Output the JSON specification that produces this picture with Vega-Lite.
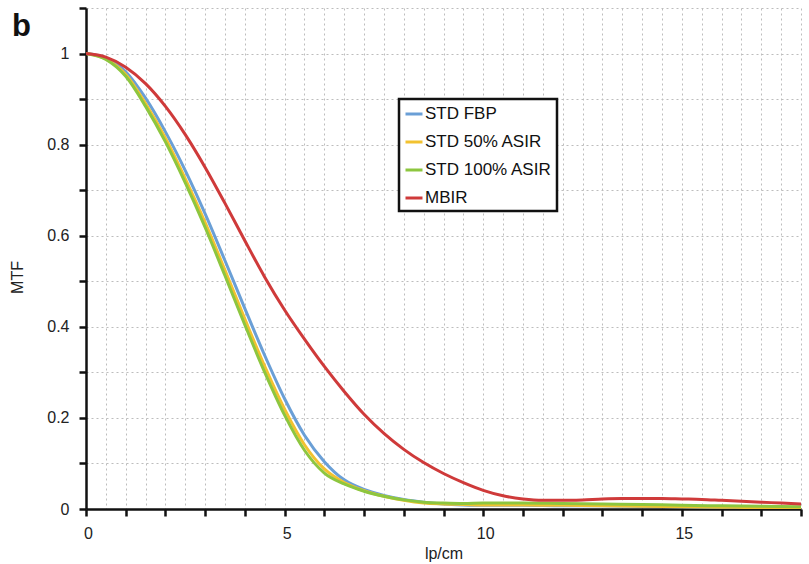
{
  "$schema": "https://vega.github.io/schema/vega-lite/v6.json",
  "autosize": {"type": "none"},
  "padding": {"left": 86, "top": 8, "right": 8, "bottom": 55},
  "width": 715,
  "height": 501,
  "background": "white",
  "title": {"text": "b", "anchor": "start", "frame": "group", "dx": -74, "dy": 64, "baseline": "alphabetic", "fontSize": 31, "fontWeight": "bold", "font": "Liberation Sans", "color": "#111"},
  "datasets": {
    "mtf": [
      {"x":0,"s":"STD FBP","y":1},{"x":0.5,"s":"STD FBP","y":0.99},{"x":1,"s":"STD FBP","y":0.96},{"x":1.5,"s":"STD FBP","y":0.902},{"x":2,"s":"STD FBP","y":0.828},{"x":2.5,"s":"STD FBP","y":0.743},{"x":3,"s":"STD FBP","y":0.648},{"x":3.5,"s":"STD FBP","y":0.545},{"x":4,"s":"STD FBP","y":0.44},{"x":4.5,"s":"STD FBP","y":0.337},{"x":5,"s":"STD FBP","y":0.242},{"x":5.5,"s":"STD FBP","y":0.162},{"x":6,"s":"STD FBP","y":0.104},{"x":6.5,"s":"STD FBP","y":0.064},{"x":7,"s":"STD FBP","y":0.043},{"x":7.5,"s":"STD FBP","y":0.03},{"x":8,"s":"STD FBP","y":0.021},{"x":8.5,"s":"STD FBP","y":0.015},{"x":9,"s":"STD FBP","y":0.011},{"x":9.5,"s":"STD FBP","y":0.009},{"x":10,"s":"STD FBP","y":0.008},{"x":11,"s":"STD FBP","y":0.008},{"x":12,"s":"STD FBP","y":0.007},{"x":13,"s":"STD FBP","y":0.007},{"x":14,"s":"STD FBP","y":0.006},{"x":15,"s":"STD FBP","y":0.005},{"x":16,"s":"STD FBP","y":0.004},{"x":17,"s":"STD FBP","y":0.004},{"x":18,"s":"STD FBP","y":0.003},
      {"x":0,"s":"STD 50% ASIR","y":1},{"x":0.5,"s":"STD 50% ASIR","y":0.988},{"x":1,"s":"STD 50% ASIR","y":0.954},{"x":1.5,"s":"STD 50% ASIR","y":0.89},{"x":2,"s":"STD 50% ASIR","y":0.814},{"x":2.5,"s":"STD 50% ASIR","y":0.725},{"x":3,"s":"STD 50% ASIR","y":0.629},{"x":3.5,"s":"STD 50% ASIR","y":0.524},{"x":4,"s":"STD 50% ASIR","y":0.417},{"x":4.5,"s":"STD 50% ASIR","y":0.313},{"x":5,"s":"STD 50% ASIR","y":0.219},{"x":5.5,"s":"STD 50% ASIR","y":0.141},{"x":6,"s":"STD 50% ASIR","y":0.088},{"x":6.5,"s":"STD 50% ASIR","y":0.058},{"x":7,"s":"STD 50% ASIR","y":0.04},{"x":7.5,"s":"STD 50% ASIR","y":0.028},{"x":8,"s":"STD 50% ASIR","y":0.019},{"x":8.5,"s":"STD 50% ASIR","y":0.013},{"x":9,"s":"STD 50% ASIR","y":0.011},{"x":9.5,"s":"STD 50% ASIR","y":0.01},{"x":10,"s":"STD 50% ASIR","y":0.009},{"x":11,"s":"STD 50% ASIR","y":0.009},{"x":12,"s":"STD 50% ASIR","y":0.008},{"x":13,"s":"STD 50% ASIR","y":0.007},{"x":14,"s":"STD 50% ASIR","y":0.006},{"x":15,"s":"STD 50% ASIR","y":0.005},{"x":16,"s":"STD 50% ASIR","y":0.004},{"x":17,"s":"STD 50% ASIR","y":0.003},{"x":18,"s":"STD 50% ASIR","y":0.003},
      {"x":0,"s":"STD 100% ASIR","y":1},{"x":0.5,"s":"STD 100% ASIR","y":0.987},{"x":1,"s":"STD 100% ASIR","y":0.95},{"x":1.5,"s":"STD 100% ASIR","y":0.884},{"x":2,"s":"STD 100% ASIR","y":0.806},{"x":2.5,"s":"STD 100% ASIR","y":0.716},{"x":3,"s":"STD 100% ASIR","y":0.618},{"x":3.5,"s":"STD 100% ASIR","y":0.512},{"x":4,"s":"STD 100% ASIR","y":0.404},{"x":4.5,"s":"STD 100% ASIR","y":0.3},{"x":5,"s":"STD 100% ASIR","y":0.206},{"x":5.5,"s":"STD 100% ASIR","y":0.129},{"x":6,"s":"STD 100% ASIR","y":0.079},{"x":6.5,"s":"STD 100% ASIR","y":0.055},{"x":7,"s":"STD 100% ASIR","y":0.039},{"x":7.5,"s":"STD 100% ASIR","y":0.028},{"x":8,"s":"STD 100% ASIR","y":0.02},{"x":8.5,"s":"STD 100% ASIR","y":0.015},{"x":9,"s":"STD 100% ASIR","y":0.013},{"x":9.5,"s":"STD 100% ASIR","y":0.012},{"x":10,"s":"STD 100% ASIR","y":0.013},{"x":11,"s":"STD 100% ASIR","y":0.013},{"x":12,"s":"STD 100% ASIR","y":0.012},{"x":13,"s":"STD 100% ASIR","y":0.011},{"x":14,"s":"STD 100% ASIR","y":0.01},{"x":15,"s":"STD 100% ASIR","y":0.008},{"x":16,"s":"STD 100% ASIR","y":0.007},{"x":17,"s":"STD 100% ASIR","y":0.006},{"x":18,"s":"STD 100% ASIR","y":0.005},
      {"x":0,"s":"MBIR","y":1},{"x":0.5,"s":"MBIR","y":0.992},{"x":1,"s":"MBIR","y":0.97},{"x":1.5,"s":"MBIR","y":0.934},{"x":2,"s":"MBIR","y":0.884},{"x":2.5,"s":"MBIR","y":0.822},{"x":3,"s":"MBIR","y":0.75},{"x":3.5,"s":"MBIR","y":0.671},{"x":4,"s":"MBIR","y":0.589},{"x":4.5,"s":"MBIR","y":0.509},{"x":5,"s":"MBIR","y":0.437},{"x":5.5,"s":"MBIR","y":0.373},{"x":6,"s":"MBIR","y":0.313},{"x":6.5,"s":"MBIR","y":0.258},{"x":7,"s":"MBIR","y":0.208},{"x":7.5,"s":"MBIR","y":0.166},{"x":8,"s":"MBIR","y":0.131},{"x":8.5,"s":"MBIR","y":0.102},{"x":9,"s":"MBIR","y":0.078},{"x":9.5,"s":"MBIR","y":0.058},{"x":10,"s":"MBIR","y":0.041},{"x":10.5,"s":"MBIR","y":0.029},{"x":11,"s":"MBIR","y":0.022},{"x":11.5,"s":"MBIR","y":0.019},{"x":12,"s":"MBIR","y":0.019},{"x":12.5,"s":"MBIR","y":0.02},{"x":13,"s":"MBIR","y":0.022},{"x":13.5,"s":"MBIR","y":0.023},{"x":14,"s":"MBIR","y":0.023},{"x":14.5,"s":"MBIR","y":0.023},{"x":15,"s":"MBIR","y":0.022},{"x":15.5,"s":"MBIR","y":0.021},{"x":16,"s":"MBIR","y":0.019},{"x":16.5,"s":"MBIR","y":0.017},{"x":17,"s":"MBIR","y":0.015},{"x":17.5,"s":"MBIR","y":0.013},{"x":18,"s":"MBIR","y":0.011}
    ]
  },
  "data": {"name": "mtf"},
  "mark": {"type": "line", "interpolate": "monotone", "strokeWidth": 3, "clip": true},
  "encoding": {
    "x": {
      "field": "x", "type": "quantitative",
      "scale": {"domain": [0, 18], "nice": false, "zero": false},
      "axis": {
        "title": "lp/cm",
        "values": [0,0.5,1,1.5,2,2.5,3,3.5,4,4.5,5,5.5,6,6.5,7,7.5,8,8.5,9,9.5,10,10.5,11,11.5,12,12.5,13,13.5,14,14.5,15,15.5,16,16.5,17,17.5,18],
        "labelExpr": "datum.value % 5 === 0 ? format(datum.value, 'd') : ''",
        "tickOpacity": {"condition": {"test": "datum.value % 1 !== 0", "value": 0}, "value": 1},
        "labelFlush": false,
        "labelOffset": 2,
        "labelPadding": 9,
        "titlePadding": 4
      }
    },
    "y": {
      "field": "y", "type": "quantitative",
      "scale": {"domain": [0, 1.1], "nice": false, "zero": false},
      "axis": {
        "title": "MTF",
        "values": [0,0.1,0.2,0.3,0.4,0.5,0.6,0.7,0.8,0.9,1,1.1],
        "labelExpr": "abs(datum.value*5 - round(datum.value*5)) < 0.001 ? format(datum.value, '~g') : ''",
        "labelPadding": 10,
        "titleX": -61,
        "titleY": 269
      }
    },
    "color": {
      "field": "s", "type": "nominal",
      "scale": {"domain": ["STD FBP", "STD 50% ASIR", "STD 100% ASIR", "MBIR"], "range": ["#6a9fd6", "#f2c230", "#8dc63f", "#cf3a3a"]},
      "legend": {"title": null, "orient": "none", "legendX": 313, "legendY": 91}
    }
  },
  "config": {
    "view": {"stroke": null},
    "axis": {
      "domainColor": "#111", "domainWidth": 2.5,
      "tickColor": "#111", "tickWidth": 2.5, "tickSize": 7,
      "grid": true, "gridColor": "#bdbdbd", "gridDash": [2, 3], "gridWidth": 1,
      "labelFont": "Liberation Sans", "labelFontSize": 16, "labelColor": "#222",
      "titleFont": "Liberation Sans", "titleFontSize": 16, "titleFontWeight": "normal", "titleColor": "#222"
    },
    "legend": {
      "strokeColor": "#111", "strokeWidth": 2.5, "fillColor": "white", "padding": 5,
      "symbolType": "stroke", "symbolSize": 289, "symbolStrokeWidth": 3,
      "labelFont": "Liberation Sans", "labelFontSize": 17, "labelColor": "#111", "labelOffset": 1,
      "rowPadding": 10, "labelLimit": 300
    }
  }
}
